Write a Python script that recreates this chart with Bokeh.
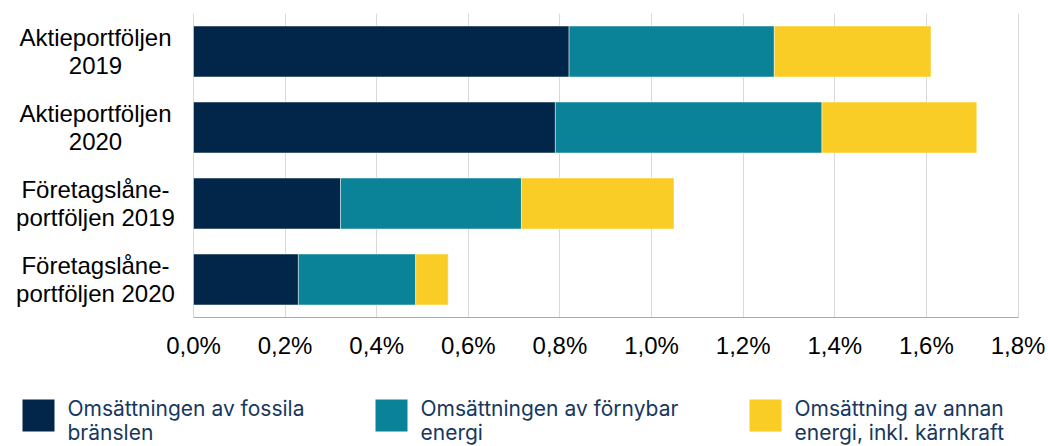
from bokeh.plotting import figure
from bokeh.models import (Range1d, FactorRange, FixedTicker, CustomJSTickFormatter,
                          ColumnDataSource)
from bokeh.layouts import column
from bokeh.embed import file_html
from bokeh.resources import INLINE
from bokeh.core.properties import value

# ---------------- data ----------------
categories = [
    "Aktieportföljen\n2019",
    "Aktieportföljen\n2020",
    "Företagslåne-\nportföljen 2019",
    "Företagslåne-\nportföljen 2020",
]
fossila = [0.820, 0.790, 0.321, 0.229]
fornybar = [0.448, 0.582, 0.395, 0.256]
annan = [0.342, 0.338, 0.333, 0.071]

series_keys = ["fossila", "fornybar", "annan"]
legend_lines = [
    ["Omsättningen av fossila", "bränslen"],
    ["Omsättningen av förnybar", "energi"],
    ["Omsättning av annan", "energi, inkl. kärnkraft"],
]
colors = ["#012649", "#0A8399", "#FACC26"]
x_ticks = [0.0, 0.2, 0.4, 0.6, 0.8, 1.0, 1.2, 1.4, 1.6, 1.8]

# ---------------- layout constants (pixels) ----------------
W = 1048
TOTAL_H = 446
TOP = 13
FRAME_H = 304
BOTTOM = 60
MAIN_H = TOP + FRAME_H + BOTTOM
LEG_H = TOTAL_H - MAIN_H
ZERO_PX = 193.0      # pixel where 0 % sits
FULL_PX = 1017.5     # pixel where 1.8 % sits
LABEL_CENTER_PX = 95.0

ppu = (FULL_PX - ZERO_PX) / (x_ticks[-1] - x_ticks[0])
x_start = x_ticks[0] - ZERO_PX / ppu
x_end = x_start + W / ppu
label_x = x_start + LABEL_CENTER_PX / ppu

# ---------------- main chart ----------------
source = ColumnDataSource(dict(cat=categories, fossila=fossila, fornybar=fornybar, annan=annan))

p = figure(width=W, height=MAIN_H,
           y_range=FactorRange(factors=list(reversed(categories))),
           x_range=Range1d(x_start, x_end),
           output_backend="svg", toolbar_location=None,
           y_axis_location=None,
           min_border_left=0, min_border_right=0,
           min_border_top=TOP, min_border_bottom=BOTTOM)

p.hbar_stack(series_keys, y="cat", height=0.67, color=colors, source=source,
             line_color="white", line_width=1, line_alpha=0.45)

p.outline_line_color = None
p.ygrid.grid_line_color = None
p.xgrid.grid_line_color = "#D9D9D9"
p.xgrid.grid_line_width = 1

xa = p.xaxis[0]
xa.ticker = FixedTicker(ticks=x_ticks)
xa.bounds = (x_ticks[0], x_ticks[-1])
xa.formatter = CustomJSTickFormatter(code="return tick.toFixed(1).replace('.', ',') + '%';")
xa.axis_line_color = "#8DB3D2"
xa.axis_line_width = 1
xa.major_tick_line_color = None
xa.minor_tick_line_color = None
xa.major_tick_out = 0
xa.major_tick_in = 0
xa.major_label_standoff = 14
xa.major_label_text_font = "Liberation Sans"
xa.major_label_text_font_size = "24px"
xa.major_label_text_color = "#000000"

# category labels (left of the 0 % line)
p.text(x=[label_x] * len(categories), y=categories, text=categories,
       text_align="center", text_baseline="middle",
       text_font=value("Liberation Sans"), text_font_size="24px",
       text_line_height=1.045, text_color="#000000")

# ---------------- legend strip ----------------
lg = figure(width=W, height=LEG_H, x_range=Range1d(0, W), y_range=Range1d(0, LEG_H),
            output_backend="svg", toolbar_location=None,
            x_axis_location=None, y_axis_location=None, min_border=0)
lg.grid.grid_line_color = None
lg.outline_line_color = None

item_left = [22, 375, 749]
sq = 32
sq_center = LEG_H - 38
lg.rect(x=[x + sq / 2 for x in item_left], y=[sq_center] * 3, width=sq, height=sq,
        color=colors, line_color=None)
lg.text(x=[x + 45 for x in item_left], y=[LEG_H - 31] * 3, text=[l[0] for l in legend_lines],
        text_baseline="alphabetic", text_align="left",
        text_font=value("Inter"), text_font_size="21px", text_color="#17375E")
lg.text(x=[x + 45 for x in item_left], y=[LEG_H - 54.5] * 3, text=[l[1] for l in legend_lines],
        text_baseline="alphabetic", text_align="left",
        text_font=value("Inter"), text_font_size="21px", text_color="#17375E")

layout = column(p, lg)
open("out.html", "w").write(file_html(layout, INLINE))
